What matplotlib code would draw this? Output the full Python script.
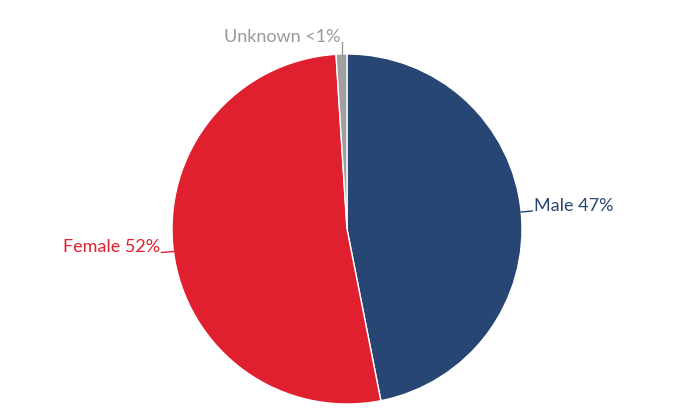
import matplotlib
matplotlib.use("Agg")
import matplotlib.pyplot as plt
import numpy as np

categories = ["Male", "Female", "Unknown"]
values = [46.9, 52.1, 1.0]
label_texts = ["Male 47%", "Female 52%", "Unknown <1%"]
colors = ["#284674", "#e01f2f", "#a0a0a0"]

plt.rcParams['font.family'] = ['Lato', 'DejaVu Sans']

W, H = 690, 416
fig = plt.figure(figsize=(W / 100, H / 100), dpi=100)
ax = fig.add_axes([0, 0, 1, 1])
ax.set_xlim(0, W)
ax.set_ylim(0, H)
ax.set_aspect('equal')
ax.axis('off')

cx, cy, r = 347, H - 229, 175
wedges, _ = ax.pie(values, colors=colors, startangle=90, counterclock=False,
                   center=(cx, cy), radius=r,
                   wedgeprops=dict(edgecolor='white', linewidth=1))
ax.set_xlim(0, W)
ax.set_ylim(0, H)

# label placements (layout)
fs = 13
for w, txt, col in zip(wedges, label_texts, colors):
    mid = np.deg2rad((w.theta1 + w.theta2) / 2)
    px, py = cx + r * np.cos(mid), cy + r * np.sin(mid)
    tcol = '#999999' if col == '#a0a0a0' else col
    if np.cos(mid) > 0.5:
        ax.plot([px, px + 11], [py, py + 1], color=tcol, lw=1)
        ax.text(px + 13, py + 1, txt, color=tcol, fontsize=fs, ha='left', va='baseline')
    elif np.cos(mid) < -0.5:
        ax.plot([px, px - 12], [py, py - 1], color=tcol, lw=1)
        ax.text(px - 13, py - 1, txt, color=tcol, fontsize=fs, ha='right', va='baseline')
    else:
        ax.plot([px, px], [py, py + 12], color=tcol, lw=1)
        ax.text(px - 1, py + 12, txt, color=tcol, fontsize=fs, ha='right', va='baseline')

fig.savefig("out.png", dpi=100)
